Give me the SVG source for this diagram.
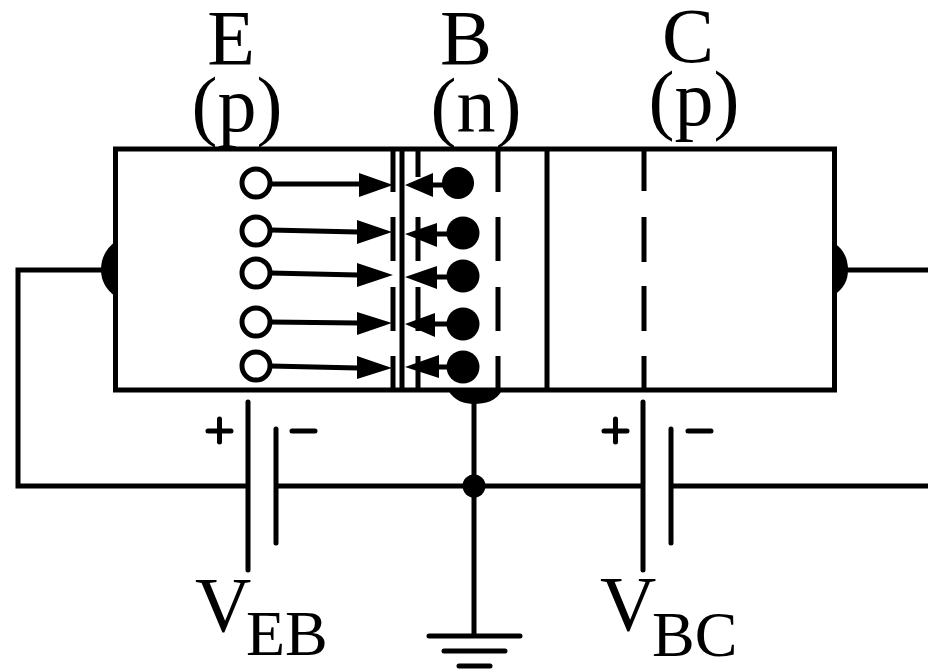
<svg xmlns="http://www.w3.org/2000/svg" width="928" height="669" viewBox="0 0 928 669">
<defs>
<style>
.l{fill:none;stroke:#000;stroke-width:5}
.f{fill:#000}
.h{fill:#fff;stroke:#000;stroke-width:5}
text{font-family:"Liberation Serif","Times New Roman",serif;fill:#000}
.big{font-size:78px}
.sub{font-size:64px}
.p{stroke:#000;stroke-width:5;fill:none;stroke-linecap:round}
</style>
</defs>
<rect width="928" height="669" fill="#fff"/>
<g id="connectors">
<path class="l" d="M115.500 149H834.500V390H115.500Z"/>
<path class="l" d="M402 149V390M547 149V390"/>
<path class="l" d="M393 149V192M393 217V261M393 287V331M393 356V390"/>
<path class="l" d="M418 149V177M418 217V261M418 287V331M418 356V390"/>
<path class="l" d="M498 149V192M498 217V261M498 287V331M498 356V390"/>
<path class="l" d="M644 149V191M644 217V262M644 286V331M644 356V390"/>
<path class="l" d="M115 270H18V486H248M276 486H643M671 486H928M835 270H928"/>
<path class="l" d="M474 395V636"/>
<path class="p" d="M248 402V570M276 429V543M643 402V570M671 429V543"/>
<path class="p" d="M208 431H231M219.500 419V442M292 431H315M604 431H627M615.500 419V442M688 431H711"/>
<path class="p" d="M429 636H520M444 651H505M459 666H490"/>
<path class="l" d="M270 184H360M270 230L358 232M270 273L358 275M270 322L358 323M270 366L358 368M425 185H445M425 234H450M425 277H450M425 324H450M425 367H450"/>
</g>
<g id="arrowheads">
<path class="f" d="M359 173L393 185L359 197ZM357 220L392 232L357 244ZM357 263L393 275L357 287ZM357 312L392 323L357 335ZM357 356L392 368L357 379Z"/>
<path class="f" d="M405 185L433 173V197ZM405 234L437 223V247ZM405 277L437 266V289ZM405 324L435 313V337ZM405 367L439 355V378Z"/>
</g>
<g id="holes">
<circle class="h" cx="256" cy="183" r="14"/><circle class="h" cx="256" cy="231" r="14"/><circle class="h" cx="256" cy="273" r="14"/><circle class="h" cx="256" cy="322" r="14"/><circle class="h" cx="256" cy="366" r="14"/>
</g>
<g id="electrons">
<circle class="f" cx="458" cy="183" r="16"/><circle class="f" cx="463" cy="233" r="16.500"/><circle class="f" cx="463" cy="276" r="16.500"/><circle class="f" cx="463" cy="324" r="16.500"/><circle class="f" cx="463" cy="367" r="16.500"/>
</g>
<g id="contacts">
<path class="f" d="M116 241Q101 252 101 270Q101 286 116 297Z"/>
<path class="f" d="M834 243Q848 252 848 270Q848 286 834 295Z"/>
<path class="f" d="M448 390C454 401 465 404 474 404C485 404 497 401 502 390Z"/>
<circle class="f" cx="474" cy="486" r="11.500"/>
</g>
<g id="labels">
<text class="big" x="231" y="64" text-anchor="middle">E</text>
<text class="big" x="237" y="131" text-anchor="middle">(p)</text>
<text class="big" x="466" y="64" text-anchor="middle">B</text>
<text class="big" x="476" y="132" text-anchor="middle">(n)</text>
<text class="big" x="688" y="62" text-anchor="middle">C</text>
<text class="big" x="694" y="125" text-anchor="middle">(p)</text>
<text class="big" x="195" y="631">V</text>
<text class="sub" x="246" y="655">EB</text>
<text class="big" x="600" y="630">V</text>
<text class="sub" x="652" y="656">BC</text>
</g>
</svg>
